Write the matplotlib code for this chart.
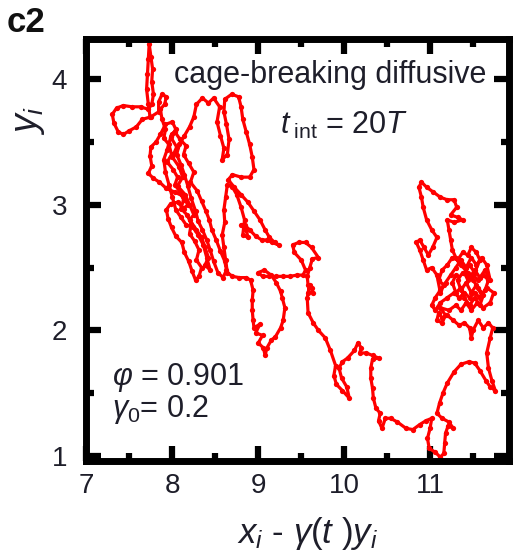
import matplotlib
matplotlib.use("Agg")
from matplotlib import pyplot as plt
from matplotlib.ticker import MultipleLocator

plt.rcParams["font.family"] = ["Liberation Sans", "DejaVu Sans"]
plt.rcParams["mathtext.fontset"] = "custom"
plt.rcParams["mathtext.rm"] = "Liberation Sans"
plt.rcParams["mathtext.it"] = "Liberation Sans:italic"
plt.rcParams["mathtext.bf"] = "Liberation Sans:bold"

# trajectory pieces, in order (x and y in particle diameters)
# spike and small loop at the top left
a_x = [7.74, 7.72, 7.70, 7.71, 7.72, 7.73, 7.75, 7.77, 7.76, 7.78,
       7.76, 7.72, 7.63, 7.53, 7.43, 7.35, 7.30, 7.32, 7.37, 7.43,
       7.50, 7.58, 7.65, 7.75, 7.84, 7.84, 7.88, 7.93, 7.91, 7.86]
a_y = [3.70, 3.80, 3.92, 4.04, 4.16, 4.28, 4.18, 4.08, 3.98, 3.88,
       3.80, 3.76, 3.78, 3.78, 3.79, 3.77, 3.72, 3.65, 3.58, 3.56,
       3.59, 3.62, 3.68, 3.70, 3.74, 3.82, 3.88, 3.86, 3.80, 3.76]
# down the band
b_x = [7.88, 7.92, 7.90, 7.96, 7.99, 7.94, 8.01, 8.06, 8.03, 8.09,
       8.13, 8.10, 8.17, 8.22, 8.20, 8.26, 8.31, 8.28, 8.34, 8.31, 8.27]
b_y = [3.68, 3.60, 3.53, 3.48, 3.40, 3.34, 3.28, 3.22, 3.16, 3.10,
       3.04, 2.97, 2.92, 2.85, 2.77, 2.71, 2.64, 2.56, 2.50, 2.43, 2.40]
# back up the left side
c_x = [8.23, 8.19, 8.14, 8.11, 8.04, 7.99, 7.95, 7.93, 7.98, 8.06,
       8.13, 8.18, 8.12, 8.03, 7.93, 7.85, 7.78, 7.72, 7.76, 7.74,
       7.75, 7.81, 7.86, 7.92, 8.00]
c_y = [2.47, 2.55, 2.62, 2.70, 2.75, 2.82, 2.89, 2.96, 3.01, 3.02,
       2.97, 3.00, 3.07, 3.10, 3.13, 3.18, 3.21, 3.25, 3.31, 3.39,
       3.46, 3.50, 3.56, 3.64, 3.66]
# middle of the band
d_x = [8.04, 7.98, 8.05, 8.00, 8.08, 8.12, 8.06, 8.15, 8.20, 8.25,
       8.20, 8.28, 8.34, 8.38, 8.42, 8.38, 8.44, 8.40, 8.36, 8.30,
       8.24, 8.16, 8.10, 8.04, 8.00, 7.96, 7.92, 7.90, 7.94, 7.99]
d_y = [3.60, 3.54, 3.46, 3.38, 3.30, 3.22, 3.15, 3.08, 3.00, 2.92,
       2.88, 2.80, 2.74, 2.66, 2.58, 2.52, 2.48, 2.58, 2.68, 2.76,
       2.82, 2.84, 2.90, 2.96, 3.06, 3.16, 3.26, 3.36, 3.44, 3.56]
# right side of the band
e_x = [8.03, 8.09, 8.16, 8.13, 8.19, 8.25, 8.21, 8.29, 8.34, 8.39,
       8.43, 8.46, 8.51, 8.56, 8.61, 8.63, 8.59, 8.53, 8.48, 8.44,
       8.40, 8.35, 8.30, 8.27, 8.22, 8.18, 8.14, 8.10, 8.05, 8.08,
       8.14, 8.20, 8.25]
e_y = [3.58, 3.52, 3.47, 3.40, 3.33, 3.26, 3.18, 3.11, 3.03, 2.95,
       2.88, 2.80, 2.72, 2.63, 2.55, 2.48, 2.42, 2.46, 2.55, 2.64,
       2.72, 2.80, 2.87, 2.95, 3.05, 3.15, 3.24, 3.32, 3.40, 3.48,
       3.55, 3.62, 3.70]
# upper loop and the diagonal tail
f_x = [8.28, 8.35, 8.42, 8.48, 8.55, 8.52, 8.56, 8.60, 8.58, 8.64,
       8.66, 8.63, 8.60, 8.61, 8.69, 8.77, 8.80, 8.82, 8.86, 8.90,
       8.93, 8.95, 8.90, 8.80, 8.70, 8.65, 8.72, 8.80, 8.88, 8.95,
       9.02, 9.08, 9.13, 9.19, 9.24, 9.16, 9.10, 9.04, 8.97, 8.90,
       8.84, 8.80, 8.86, 8.88, 8.82, 8.84, 8.80, 8.75, 8.70, 8.64,
       8.62, 8.60, 8.61, 8.58, 8.60, 8.62, 8.64]
f_y = [3.80, 3.85, 3.81, 3.85, 3.78, 3.66, 3.55, 3.45, 3.36, 3.40,
       3.52, 3.64, 3.74, 3.84, 3.88, 3.86, 3.78, 3.68, 3.58, 3.48,
       3.38, 3.28, 3.22, 3.22, 3.24, 3.20, 3.14, 3.08, 3.02, 2.95,
       2.88, 2.80, 2.74, 2.70, 2.68, 2.70, 2.72, 2.72, 2.75, 2.80,
       2.84, 2.84, 2.80, 2.74, 2.76, 2.88, 2.98, 3.08, 3.14, 3.16,
       3.06, 2.96, 2.86, 2.76, 2.66, 2.56, 2.46]
# lower loop down to y ~ 1.8
g_x = [8.70, 8.78, 8.86, 8.91, 8.94, 8.93, 8.93, 8.94, 8.95, 9.02,
       8.97, 9.05, 9.00, 9.06, 9.08, 9.10, 9.15, 9.20, 9.26, 9.29,
       9.31, 9.28, 9.26, 9.21, 9.15, 9.07, 9.00, 9.05]
g_y = [2.43, 2.42, 2.42, 2.40, 2.32, 2.24, 2.16, 2.08, 2.02, 2.05,
       1.98, 1.96, 1.90, 1.86, 1.80, 1.86, 1.92, 1.95, 2.02, 2.08,
       2.18, 2.26, 2.31, 2.38, 2.44, 2.48, 2.46, 2.43]
# across and the small square loop
h_x = [9.13, 9.21, 9.29, 9.37, 9.45, 9.52, 9.55, 9.50, 9.42, 9.40,
       9.47, 9.55, 9.62, 9.70, 9.63, 9.60, 9.57, 9.58, 9.62, 9.64, 9.58, 9.60]
h_y = [2.43, 2.43, 2.43, 2.43, 2.44, 2.44, 2.48, 2.56, 2.62, 2.68,
       2.70, 2.70, 2.66, 2.58, 2.57, 2.50, 2.43, 2.36, 2.34, 2.30, 2.30, 2.36]
# long excursion to the bottom and over to the right
i_x = [9.57, 9.58, 9.64, 9.70, 9.78, 9.84, 9.90, 9.88, 9.91, 9.98,
       10.06, 10.03, 9.97, 9.94, 9.98, 10.04, 10.12, 10.16, 10.20, 10.18,
       10.26, 10.33, 10.40, 10.33, 10.31, 10.31, 10.33, 10.34, 10.37, 10.42,
       10.40, 10.44, 10.48, 10.54, 10.62, 10.72, 10.80, 10.88, 10.95, 11.02,
       11.00, 10.97, 10.99, 11.06, 11.12, 11.16, 11.17, 11.18, 11.21, 11.27,
       11.22, 11.14, 11.08, 11.11, 11.15, 11.20, 11.28, 11.36, 11.45, 11.52,
       11.58, 11.65, 11.70, 11.76, 11.72, 11.68, 11.66, 11.70, 11.73]
i_y = [2.26, 2.14, 2.06, 2.00, 1.94, 1.84, 1.72, 1.64, 1.57, 1.52,
       1.46, 1.55, 1.62, 1.70, 1.75, 1.78, 1.84, 1.90, 1.86, 1.82,
       1.82, 1.80, 1.78, 1.77, 1.70, 1.62, 1.54, 1.46, 1.38, 1.34,
       1.28, 1.22, 1.30, 1.30, 1.27, 1.22, 1.21, 1.25, 1.28, 1.30,
       1.22, 1.14, 1.06, 1.03, 0.99, 1.02, 1.10, 1.18, 1.24, 1.22,
       1.27, 1.30, 1.34, 1.42, 1.50, 1.58, 1.67, 1.73, 1.75, 1.74,
       1.68, 1.60, 1.55, 1.52, 1.60, 1.70, 1.82, 1.94, 2.02]
# dense right cluster
j_x = [11.68, 11.62, 11.56, 11.50, 11.48, 11.46, 11.40, 11.34, 11.27, 11.20,
       11.14, 11.10, 11.08, 11.14, 11.18, 11.12, 11.22, 11.30, 11.36, 11.42,
       11.48, 11.55, 11.62, 11.70, 11.74, 11.66, 11.60, 11.54, 11.48, 11.42,
       11.36, 11.32, 11.38, 11.46, 11.52, 11.58, 11.64, 11.70, 11.66, 11.60,
       11.54, 11.48, 11.42, 11.36, 11.30, 11.24, 11.18, 11.12, 11.06, 11.02,
       11.06, 11.12, 11.20, 11.28, 11.34, 11.40, 11.46, 11.52, 11.58, 11.64,
       11.68, 11.62, 11.56, 11.50, 11.44, 11.40, 11.46, 11.52, 11.58, 11.54,
       11.48, 11.44, 11.38, 11.32, 11.26, 11.20, 11.14, 11.10, 11.16, 11.12]
j_y = [2.06, 2.02, 2.08, 2.00, 1.94, 2.02, 2.06, 2.04, 2.08, 2.12,
       2.10, 2.14, 2.08, 2.06, 2.12, 2.18, 2.16, 2.20, 2.16, 2.22,
       2.16, 2.22, 2.18, 2.22, 2.30, 2.34, 2.28, 2.36, 2.30, 2.38,
       2.32, 2.40, 2.46, 2.42, 2.48, 2.42, 2.48, 2.40, 2.52, 2.58,
       2.52, 2.58, 2.50, 2.56, 2.50, 2.44, 2.38, 2.32, 2.26, 2.20,
       2.16, 2.22, 2.26, 2.30, 2.26, 2.30, 2.26, 2.30, 2.26, 2.32,
       2.40, 2.44, 2.40, 2.44, 2.40, 2.46, 2.52, 2.46, 2.56, 2.62,
       2.66, 2.60, 2.62, 2.56, 2.58, 2.52, 2.48, 2.40, 2.36, 2.30]
# top loop of the right cluster and back into it
k_x = [11.08, 11.02, 10.96, 10.92, 10.88, 10.84, 10.88, 10.93, 10.98, 11.03,
       11.08, 11.02, 10.96, 10.92, 10.90, 10.87, 10.90, 10.96, 11.04, 11.12,
       11.20, 11.28, 11.31, 11.24, 11.32, 11.38, 11.28, 11.20, 11.22, 11.24,
       11.26, 11.30, 11.36, 11.44, 11.50, 11.56, 11.62, 11.58, 11.52, 11.46,
       11.40, 11.36, 11.30, 11.26, 11.30]
k_y = [2.44, 2.50, 2.48, 2.56, 2.64, 2.70, 2.72, 2.66, 2.60, 2.66,
       2.74, 2.80, 2.88, 2.98, 3.06, 3.14, 3.18, 3.14, 3.10, 3.06,
       3.04, 3.04, 2.98, 2.92, 2.90, 2.88, 2.86, 2.88, 2.80, 2.72,
       2.64, 2.58, 2.52, 2.46, 2.40, 2.34, 2.28, 2.20, 2.26, 2.20,
       2.26, 2.34, 2.30, 2.38, 2.44]

xs = a_x + b_x + c_x + d_x + e_x + f_x + g_x + h_x + i_x + j_x + k_x
ys = a_y + b_y + c_y + d_y + e_y + f_y + g_y + h_y + i_y + j_y + k_y

x_ticks = [7, 8, 9, 10, 11]
y_ticks = [1, 2, 3, 4]
ink = "#1e1e2a"

fig = plt.figure(figsize=(5.2, 5.53), dpi=100)
ax = fig.add_axes([0.1663, 0.1664, 0.8127, 0.7631])

ax.plot(xs, ys, color="red", lw=2.3, marker="o", ms=3.8, mew=0)

ax.set_xlim(7, 11.92)
ax.set_ylim(0.96, 4.32)
ax.set_xticks(x_ticks)
ax.set_yticks(y_ticks)
ax.xaxis.set_minor_locator(MultipleLocator(0.5))
ax.yaxis.set_minor_locator(MultipleLocator(0.5))
ax.tick_params(which="both", direction="in", top=True, right=True, width=4.5, color="black")
ax.tick_params(which="major", length=11, labelsize=20, labelcolor=ink)
ax.tick_params(which="minor", length=5.5)
ax.tick_params(axis="x", which="major", pad=9)
ax.tick_params(axis="y", which="major", pad=14)
for s in ax.spines.values():
    s.set_linewidth(5)

ax.set_ylabel("$y_i$", fontsize=27, color=ink)
ax.yaxis.set_label_coords(-0.094, 0.808)
ax.set_xlabel(r"$x_i$ - $\gamma(t\ )y_i$", fontsize=25, color=ink)
ax.xaxis.set_label_coords(0.524, -0.128)

ax.text(0.947, 0.915, "cage-breaking diffusive", transform=ax.transAxes,
        ha="right", va="center", fontsize=22, color=ink)
ax.text(0.61, 0.796, r"$t_{\;\mathrm{int}}$ = 20$T$", transform=ax.transAxes,
        ha="center", va="center", fontsize=22, color=ink)
ax.text(0.061, 0.197, r"$\varphi$ = 0.901", transform=ax.transAxes,
        ha="left", va="center", fontsize=22, color=ink)
ax.text(0.061, 0.121, r"$\gamma_0$= 0.2", transform=ax.transAxes,
        ha="left", va="center", fontsize=22, color=ink)

fig.text(0.012, 0.99, "c2", fontsize=25, fontweight="bold", color="#111111",
         ha="left", va="top")

fig.savefig("out.png", dpi=100)
